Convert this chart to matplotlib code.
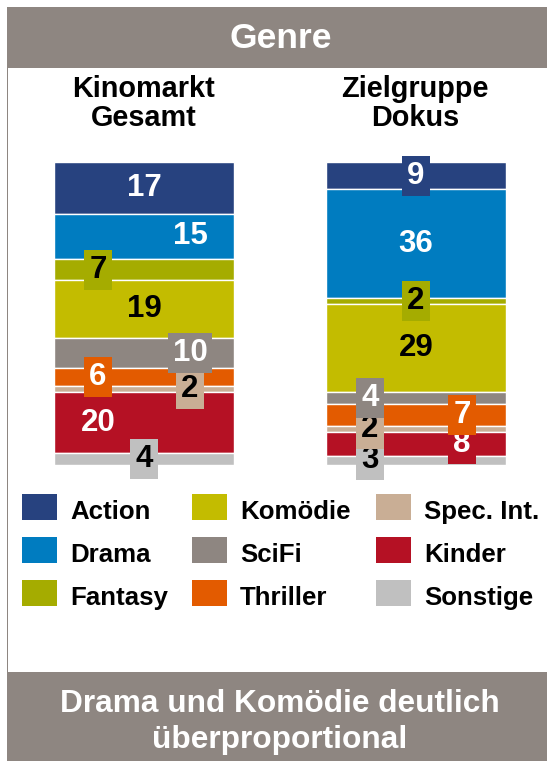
import matplotlib
matplotlib.use("Agg")
import matplotlib.pyplot as plt
from matplotlib.patches import Rectangle

plt.rcParams['font.family'] = ['Liberation Sans', 'DejaVu Sans']
plt.rcParams['font.weight'] = 'bold'

# data (Anteile in %)
genres = ['Action', 'Drama', 'Fantasy', 'Komödie', 'SciFi', 'Thriller',
          'Spec. Int.', 'Kinder', 'Sonstige']
kinomarkt = [17, 15, 7, 19, 10, 6, 2, 20, 4]
zielgruppe = [9, 36, 2, 29, 4, 7, 2, 8, 3]
groups = ['Kinomarkt\nGesamt', 'Zielgruppe\nDokus']
title = 'Genre'
footer = 'Drama und Komödie deutlich\nüberproportional'

colors = ['#27427F', '#007CC0', '#A5AC00', '#C3BC00', '#8E8681', '#E35B00',
          '#C9AE95', '#B51124', '#C0C0C0']
text_colors = ['white', 'white', 'black', 'black', 'white', 'white',
               'black', 'white', 'black']
band = '#8E8681'

# label placement inside the bar: -1 left, 0 centre, 1 right
place_left = [0, 1, -1, 0, 1, -1, 1, -1, 0]
place_right = [0, 0, 0, 0, -1, 1, -1, 1, -1]

W, H = 547, 761
fig = plt.figure(figsize=(W / 100, H / 100), dpi=100)


def fx(x):
    return x / W


def fy(y):
    return 1 - y / H


# header / footer bands and left border
fig.add_artist(Rectangle((fx(7), fy(68)), 1, 61 / H, color=band,
                         transform=fig.transFigure, lw=0))
fig.add_artist(Rectangle((fx(7), 0), 1, fy(672), color=band,
                         transform=fig.transFigure, lw=0))
fig.add_artist(Rectangle((fx(6.5), fy(672)), 1.5 / W, 604 / H, color=band,
                         transform=fig.transFigure, lw=0))

fig.text(fx(281), fy(38), title, color='white', fontsize=25.5,
         ha='center', va='center')
lines = footer.split('\n')
fig.text(fx(280), fy(712), lines[0], color='white', fontsize=22.8,
         ha='center', va='baseline')
fig.text(fx(280), fy(748), lines[1], color='white', fontsize=22.8,
         ha='center', va='baseline')

for cx, g in zip([144, 415], groups):
    l1, l2 = g.split('\n')
    fig.text(fx(cx), fy(97), l1, fontsize=20.8, ha='center', va='baseline')
    fig.text(fx(cx), fy(126), l2, fontsize=20.8, ha='center', va='baseline')

# stacked bars
ax = fig.add_axes([fx(54), fy(465), 452 / W, 303 / H])
ax.set_xlim(-0.331, 1.331)
ax.set_ylim(100, 0)
ax.axis('off')
bw = 0.662

for pos, vals, places in [(0, kinomarkt, place_left), (1, zielgruppe, place_right)]:
    bottom = 0
    for i, v in enumerate(vals):
        ax.bar(pos, v, bottom=bottom, width=bw, color=colors[i],
               edgecolor='white', linewidth=1.0)
        box = None
        if v <= 10:
            box = dict(boxstyle='square,pad=0.16', fc=colors[i], ec='none')
        ax.text(pos + places[i] * 0.169, bottom + v / 2, str(v),
                color=text_colors[i], fontsize=22.5, ha='center', va='center',
                bbox=box, zorder=20 - i, clip_on=False)
        bottom += v

# legend
for i, g in enumerate(genres):
    col, row = i // 3, i % 3
    x0 = [22, 192, 376][col]
    y0 = 494 + row * 43
    fig.add_artist(Rectangle((fx(x0), fy(y0 + 26)), 35 / W, 26 / H,
                             color=colors[i], transform=fig.transFigure, lw=0))
    fig.text(fx(x0 + 48), fy(y0 + 25), g, fontsize=18.6, ha='left',
             va='baseline')

plt.savefig('out.png', dpi=100)
